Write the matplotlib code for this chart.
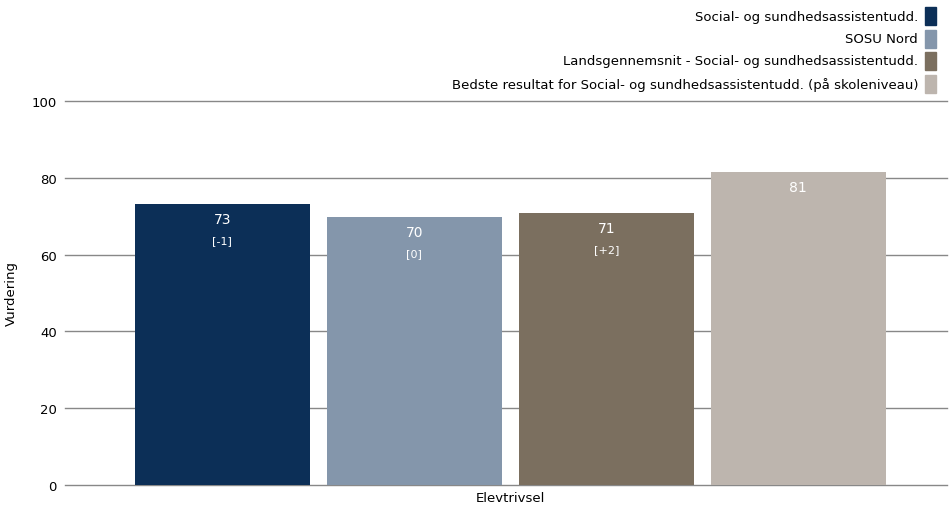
import matplotlib
matplotlib.use("Agg")
import matplotlib.pyplot as plt
from matplotlib.patches import Rectangle

category = "Elevtrivsel"
series = [
    "Social- og sundhedsassistentudd.",
    "SOSU Nord",
    "Landsgennemsnit - Social- og sundhedsassistentudd.",
    "Bedste resultat for Social- og sundhedsassistentudd. (på skoleniveau)",
]
values = [73.2, 69.8, 70.8, 81.5]
labels = ["73", "70", "71", "81"]
sublabels = ["[-1]", "[0]", "[+2]", ""]
colors = ["#0c2f57", "#8496ab", "#7b6f5f", "#bdb5ae"]
yticks = [0, 20, 40, 60, 80, 100]

W, H = 949, 510
fig = plt.figure(figsize=(W / 100, H / 100), dpi=100)
ax = fig.add_axes([65 / W, 1 - 486 / H, (947 - 65) / W, (486 - 102) / H])

bw = 0.2
gap = bw * 17 / 175
step = bw + gap
for i, (v, c) in enumerate(zip(values, colors)):
    x = (i - 1.5) * step
    ax.bar(x, v, width=bw, color=c, zorder=3)
    ax.annotate(labels[i], (x, v), xytext=(0, -11), textcoords="offset points",
                ha="center", va="center", color="white", fontsize=10, zorder=4)
    if sublabels[i]:
        ax.annotate(sublabels[i], (x, v), xytext=(0, -26), textcoords="offset points",
                    ha="center", va="center", color="white", fontsize=8, zorder=4)

ax.set_xlim(-0.509, 0.499)
ax.set_ylim(0, 100)
ax.set_yticks(yticks)
for t in yticks:
    ax.axhline(t, color="#888888", linewidth=1, zorder=1, clip_on=False)
ax.set_xticks([0])
ax.set_xticklabels([category], fontsize=9.5)
ax.tick_params(axis="both", length=0, labelsize=9.5, pad=6)
ax.tick_params(axis="x", pad=4)
for s in ax.spines.values():
    s.set_visible(False)
ax.set_ylabel("Vurdering", fontsize=9.5, labelpad=10)

# legend: right-aligned text with square at the right
ys = [17, 40, 62, 85]
for name, c, y in zip(series, colors, ys):
    fig.text(918 / W, 1 - y / H, name, ha="right", va="center", fontsize=9.5)
    fig.patches.append(Rectangle((925 / W, 1 - (y + 9) / H), 11 / W, 18 / H,
                                 transform=fig.transFigure, color=c, figure=fig))

fig.savefig("out.png", dpi=100)
